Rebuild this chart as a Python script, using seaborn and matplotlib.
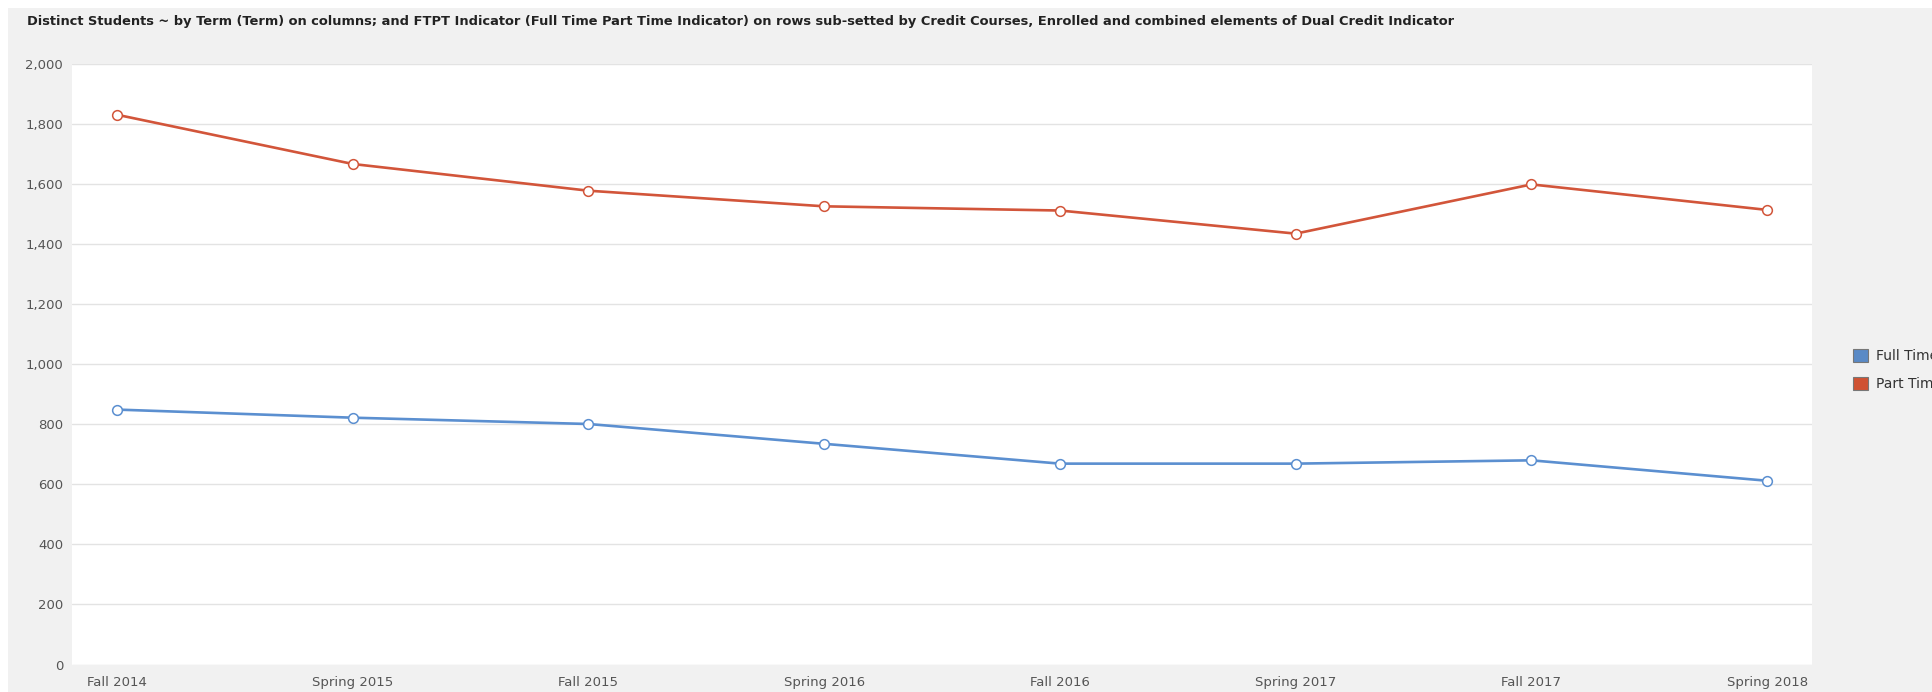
import matplotlib
matplotlib.use("Agg")
import matplotlib.pyplot as plt
from matplotlib.patches import Patch, Rectangle
from matplotlib.ticker import FuncFormatter, MultipleLocator
import seaborn as sns
import pandas as pd

terms = ["Fall 2014", "Spring 2015", "Fall 2015", "Spring 2016",
         "Fall 2016", "Spring 2017", "Fall 2017", "Spring 2018"]
full_time = [849, 822, 801, 735, 669, 669, 680, 612]
part_time = [1831, 1667, 1578, 1526, 1512, 1435, 1599, 1514]
series_names = ["Full Time", "Part Time"]
series_colors = {"Full Time": "#5b8fd0", "Part Time": "#d2553a"}
legend_colors = {"Full Time": "#5a8ac6", "Part Time": "#cf5233"}
title = ("Distinct Students ~ by Term (Term) on columns; and FTPT Indicator "
         "(Full Time Part Time Indicator) on rows sub-setted by Credit Courses, "
         "Enrolled and combined elements of Dual Credit Indicator")

df = pd.DataFrame({
    "pos": list(range(len(terms))) * 2,
    "term": terms * 2,
    "students": full_time + part_time,
    "series": ["Full Time"] * len(terms) + ["Part Time"] * len(terms),
})

sns.set_theme(style="white")
plt.rcParams["font.family"] = ["DejaVu Sans"]

W, H = 1933, 692
fig = plt.figure(figsize=(W / 100, H / 100), dpi=100)
fig.patch.set_facecolor("white")

# grey panel behind everything, leaving a thin white margin top/left
fig.patches.append(Rectangle((8 / W, 0), 1, 1 - 8 / H, transform=fig.transFigure,
                             facecolor="#f1f1f1", edgecolor="none", zorder=-10))

ax = fig.add_axes([71.5 / W, 1 - 664.5 / H, (1812 - 71.5) / W, (664.5 - 64) / H])
ax.set_facecolor("white")

for name in series_names:
    sub = df[df["series"] == name]
    sns.lineplot(data=sub, x="pos", y="students", ax=ax, color=series_colors[name],
                 linewidth=1.9, marker="o", markersize=7.0,
                 markerfacecolor="white", markeredgecolor=series_colors[name],
                 markeredgewidth=1.1, legend=False, zorder=3)

ax.set_xlim(-0.193, len(terms) - 1 + 0.19)
ax.set_ylim(0, 2000)
ax.yaxis.set_major_locator(MultipleLocator(200))
ax.yaxis.set_major_formatter(FuncFormatter(lambda v, p: f"{int(v):,}"))
ax.set_xticks(range(len(terms)))
ax.set_xticklabels(terms)
ax.set_xlabel("")
ax.set_ylabel("")

ax.grid(axis="y", color="#e3e3e3", linewidth=1.0)
ax.grid(axis="x", visible=False)
ax.set_axisbelow(True)
for s in ax.spines.values():
    s.set_visible(False)
ax.tick_params(axis="both", length=0, labelsize=9.5, labelcolor="#555555")
ax.tick_params(axis="x", pad=8)
ax.tick_params(axis="y", pad=6)

fig.text(27 / W, 1 - 21 / H, title, fontsize=9.35, fontweight="bold",
         color="#222222", ha="left", va="center")

handles = [Patch(facecolor=legend_colors[n], edgecolor="#777777", linewidth=0.8)
           for n in series_names]
fig.legend(handles, series_names, loc="upper left",
           bbox_to_anchor=(1853 / W, 1 - 349 / H), frameon=False,
           fontsize=10, labelcolor="#333333", handlelength=1.1, handleheight=1.1,
           handletextpad=0.55, labelspacing=0.95, borderaxespad=0, borderpad=0)

fig.savefig("out.png", dpi=100, facecolor=fig.get_facecolor())
